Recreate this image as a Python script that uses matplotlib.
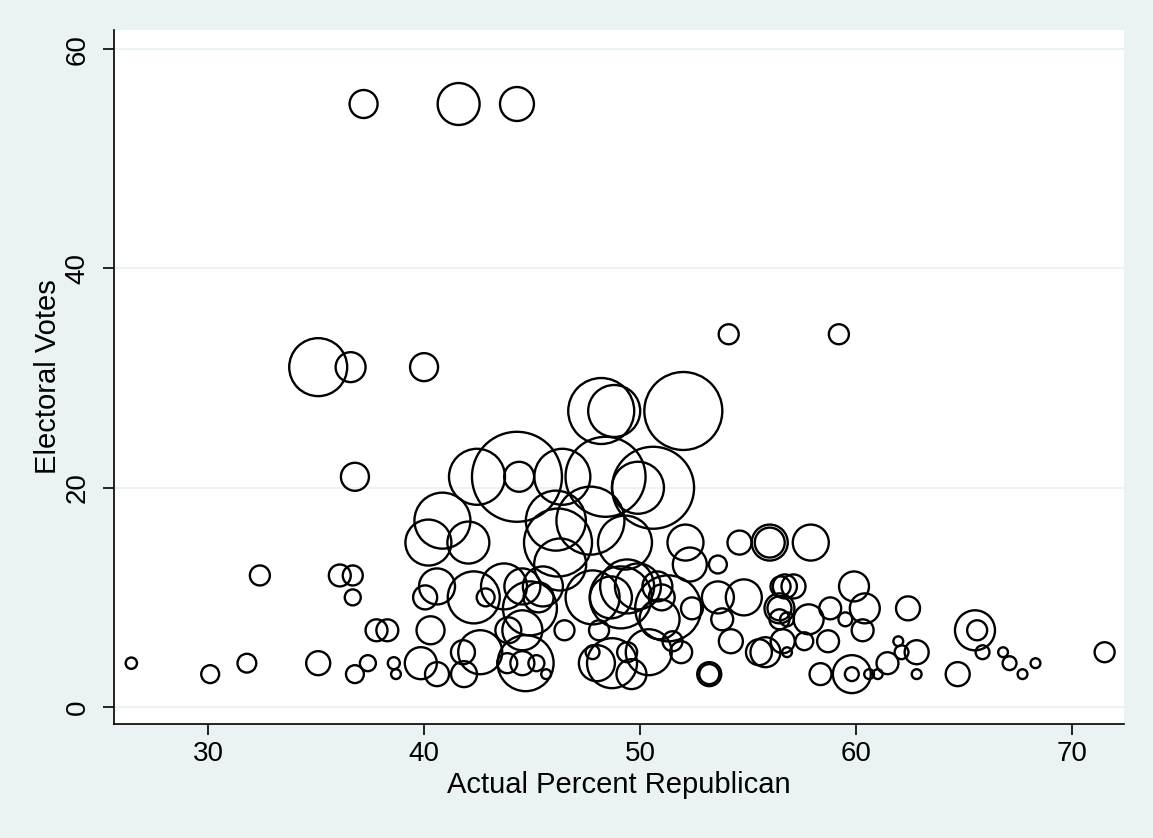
import matplotlib
matplotlib.use("Agg")
import matplotlib.pyplot as plt
import numpy as np

plt.rcParams["font.family"] = ["Liberation Sans", "DejaVu Sans"]

# actual percent republican (x), electoral votes (y), bubble weight (w)
pct_rep = [37.2, 41.6, 44.3,
           54.1, 59.2,
           35.1, 36.6, 40.0,
           48.2, 48.8, 52.0,
           36.8, 42.45, 44.3, 44.4, 46.4, 48.4,
           49.9, 50.6,
           40.85, 46.1, 47.7,
           40.2, 42.05, 46.2, 49.3, 52.1, 54.6, 56.0, 56.0, 57.9,
           46.3, 52.3, 53.6,
           32.4, 36.1, 36.7,
           40.6, 43.7, 44.55, 45.5, 49.4, 49.9, 50.8, 56.5, 56.7, 57.1, 59.9,
           36.7, 40.05, 42.3, 42.85, 45.3, 47.8, 48.65, 49.1, 51.0, 53.6, 54.8,
           44.9, 51.3, 52.4, 56.45, 56.45, 58.8, 60.4, 62.4,
           50.9, 53.8, 56.45, 56.8, 57.8, 59.5,
           37.8, 38.3, 40.3, 43.9, 44.55, 46.5, 48.1, 60.3, 65.5, 65.6,
           51.5, 54.2, 56.6, 57.6, 58.7, 61.95,
           41.8, 42.6, 47.8, 49.4, 50.4, 51.9, 55.5, 55.8, 56.8, 62.1, 62.8,
           65.85, 66.8, 71.5,
           26.45, 31.8, 35.1, 37.4, 38.6, 39.85, 43.85, 44.55, 44.7, 45.2,
           48.0, 48.7, 61.45, 67.1, 68.3,
           30.1, 36.8, 38.7, 40.6, 41.85, 45.65, 49.6, 53.2, 53.2, 58.35,
           59.8, 59.8, 60.6, 61.0, 62.8, 64.7, 67.7]
elec_votes = [55, 55, 55,
              34, 34,
              31, 31, 31,
              27, 27, 27,
              21, 21, 21, 21, 21, 21,
              20, 20,
              17, 17, 17,
              15, 15, 15, 15, 15, 15, 15, 15, 15,
              13, 13, 13,
              12, 12, 12,
              11, 11, 11, 11, 11, 11, 11, 11, 11, 11, 11,
              10, 10, 10, 10, 10, 10, 10, 10, 10, 10, 10,
              9, 9, 9, 9, 9, 9, 9, 9,
              8, 8, 8, 8, 8, 8,
              7, 7, 7, 7, 7, 7, 7, 7, 7, 7,
              6, 6, 6, 6, 6, 6,
              5, 5, 5, 5, 5, 5, 5, 5, 5, 5, 5,
              5, 5, 5,
              4, 4, 4, 4, 4, 4, 4, 4, 4, 4,
              4, 4, 4, 4, 4,
              3, 3, 3, 3, 3, 3, 3, 3, 3, 3,
              3, 3, 3, 3, 3, 3, 3]
weight = [49, 110, 72,
          25, 25,
          210, 56, 49,
          272, 169, 380,
          49, 196, 506, 56, 196, 400,
          169, 420,
          196, 225, 289,
          132, 110, 289, 182, 81, 36, 81, 56, 81,
          169, 72, 20,
          25, 30, 25,
          81, 132, 81, 100, 182, 132, 56, 25, 36, 36, 56,
          16, 36, 169, 20, 56, 182, 110, 240, 42, 64, 81,
          182, 272, 30, 56, 36, 30, 56, 36,
          100, 30, 25, 12, 56, 12,
          30, 30, 49, 42, 100, 25, 25, 30, 100, 25,
          25, 36, 36, 20, 30, 6,
          36, 121, 12, 25, 132, 30, 42, 56, 6, 12, 36,
          12, 6, 25,
          8, 22, 36, 16, 9, 64, 25, 36, 196, 16,
          81, 156, 30, 12, 6,
          20, 20, 6, 36, 42, 6, 56, 36, 25, 30,
          90, 12, 6, 6, 6, 36, 6]

BG = "#eaf2f3"

fig = plt.figure(figsize=(11.53, 8.38), dpi=100, facecolor=BG)
ax = fig.add_axes([0.0989, 0.136, 0.8760, 0.8282])
ax.set_facecolor("white")

# weight ~ (radius px)^2 / 4  ->  marker area in pt^2
sizes = np.array(weight) * 4 * (1.44 ** 2)
ax.scatter(pct_rep, elec_votes, s=sizes, facecolors="none",
           edgecolors="black", linewidths=1.7, zorder=3)

ax.set_xlim(25.65, 72.4)
ax.set_ylim(-1.55, 61.75)
ax.set_xticks([30, 40, 50, 60, 70])
ax.set_yticks([0, 20, 40, 60])
ax.grid(axis="y", color=BG, lw=1.5, zorder=0)
ax.set_axisbelow(True)

for side in ("top", "right"):
    ax.spines[side].set_visible(False)
for side in ("left", "bottom"):
    ax.spines[side].set_linewidth(1.2)

ax.tick_params(axis="both", direction="out", length=8, width=1.2,
               labelsize=20)
ax.tick_params(axis="y", pad=9)
ax.tick_params(axis="x", pad=4)
for lab in ax.get_yticklabels():
    lab.set_rotation(90)
    lab.set_va("center")

ax.set_xlabel("Actual Percent Republican", fontsize=21, labelpad=3)
ax.set_ylabel("Electoral Votes", fontsize=21, labelpad=2)

fig.savefig("out.png", dpi=100, facecolor=BG)
